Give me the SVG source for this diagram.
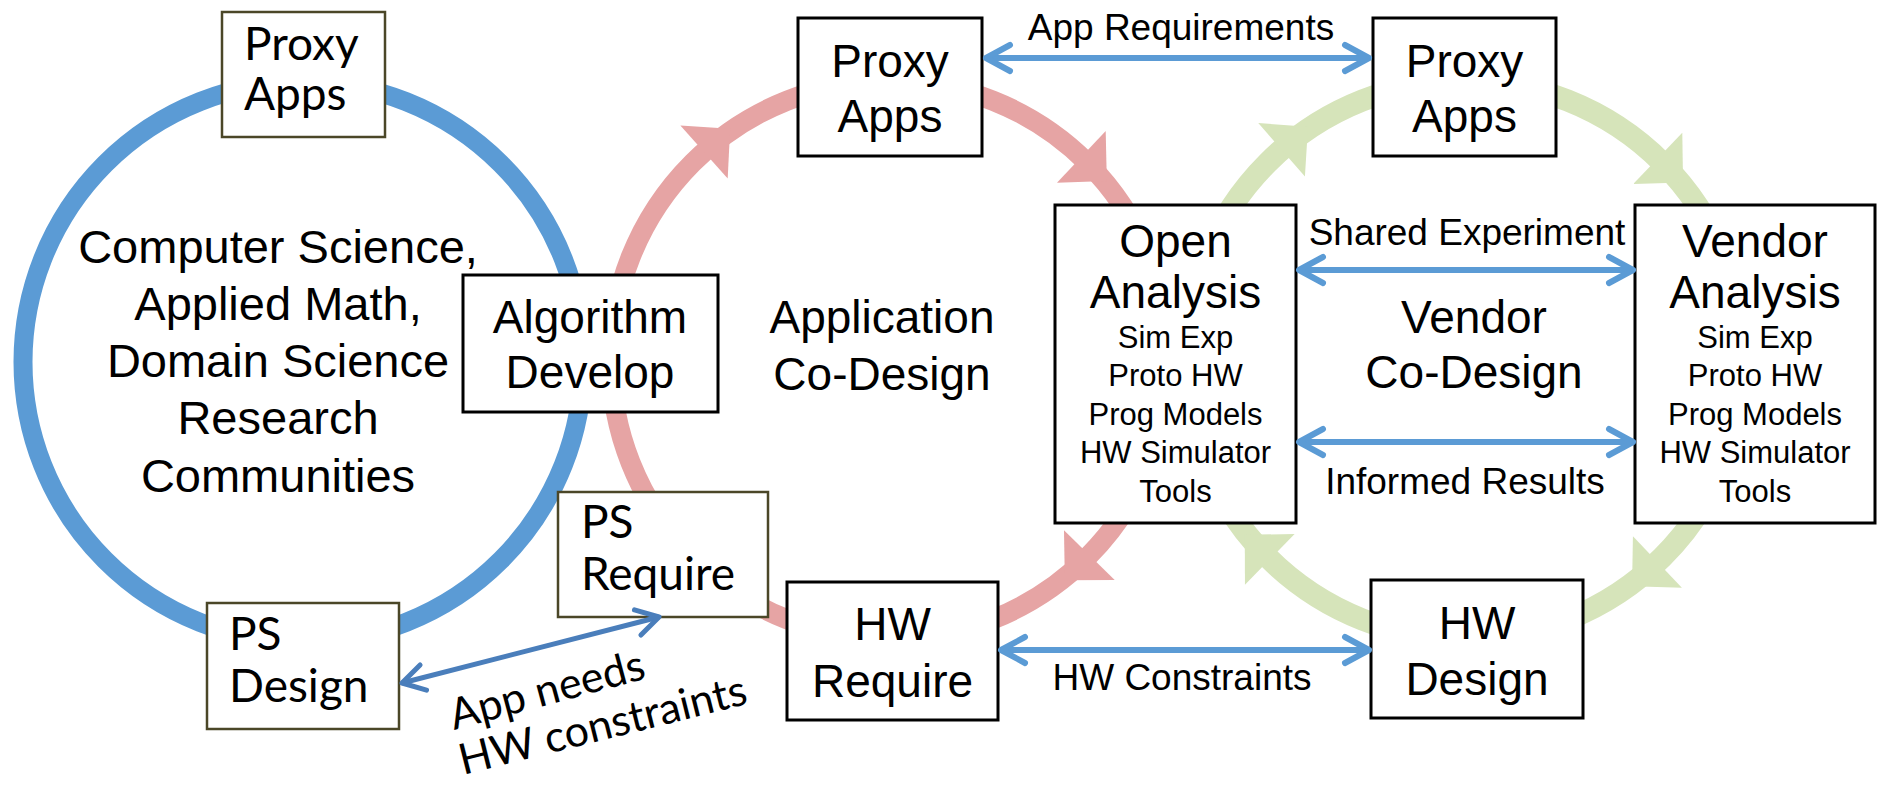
<svg xmlns="http://www.w3.org/2000/svg" width="1877" height="788" viewBox="0 0 1877 788">
<style>
.ring{fill:none}
.blue{stroke:#5b9bd5;stroke-width:19}
.pink{stroke:#e6a4a4;stroke-width:20}
.green{stroke:#d6e4ba;stroke-width:22}
.boxA{fill:#fff;stroke:#000;stroke-width:3}
.boxC{fill:#fff;stroke:#4b4728;stroke-width:2.5}
.ta{font-family:"Liberation Sans",Arial,sans-serif;fill:#000;text-anchor:middle}
.big{font-size:46px}
.circ{font-size:47px}
.small{font-size:31px}
.lbl{font-size:37px}
.tc{font-family:Lato,"Liberation Sans",sans-serif;font-size:46px;fill:#000}
.rot{font-family:Lato,"Liberation Sans",sans-serif;font-size:43px;fill:#000}
.conn{fill:none;stroke:#5b9bd5;stroke-width:6;marker-start:url(#chev);marker-end:url(#chev)}
.conn2{fill:none;stroke:#4a7ebb;stroke-width:5;marker-start:url(#chev2);marker-end:url(#chev2)}
</style>
<defs>
<marker id="chev" markerUnits="userSpaceOnUse" markerWidth="40" markerHeight="40" viewBox="-30 -20 40 40" refX="0" refY="0" orient="auto-start-reverse">
<path d="M-24,-13 L0,0 L-24,13" fill="none" stroke="#5b9bd5" stroke-width="6" stroke-linecap="round" stroke-linejoin="round"/>
</marker>
<marker id="chev2" markerUnits="userSpaceOnUse" markerWidth="40" markerHeight="40" viewBox="-30 -20 40 40" refX="0" refY="0" orient="auto-start-reverse">
<path d="M-22,-13 L0,0 L-22,13" fill="none" stroke="#4a7ebb" stroke-width="5" stroke-linecap="round" stroke-linejoin="round"/>
</marker>
<polygon id="tri" points="243.5,0 314.5,0 279,35"/>
</defs>

<g id="cycles">
<circle class="ring blue" cx="303" cy="362" r="280"/>
<circle class="ring pink" cx="890" cy="360" r="279"/>
<circle class="ring green" cx="1465" cy="360" r="279"/>
<g fill="#e6a4a4">
<use href="#tri" transform="translate(890,360) rotate(-131.8)"/>
<use href="#tri" transform="translate(890,360) rotate(-46.7)"/>
<use href="#tri" transform="translate(890,360) rotate(44.4)"/>
</g>
<g fill="#d6e4ba">
<use href="#tri" transform="translate(1465,360) rotate(-131.1)"/>
<use href="#tri" transform="translate(1465,360) rotate(-46.3)"/>
<use href="#tri" transform="translate(1465,360) rotate(46.4)"/>
<use href="#tri" transform="translate(1465,360) rotate(134.4)"/>
</g>
</g>

<g id="research-text" class="ta circ">
<text x="278" y="263">Computer Science,</text>
<text x="278" y="320">Applied Math,</text>
<text x="278" y="377">Domain Science</text>
<text x="278" y="434">Research</text>
<text x="278" y="492">Communities</text>
</g>

<g id="app-codesign" class="ta big">
<text x="882" y="333">Application</text>
<text x="882" y="390">Co-Design</text>
</g>
<g id="vendor-codesign" class="ta big">
<text x="1474" y="333">Vendor</text>
<text x="1474" y="388">Co-Design</text>
</g>

<g id="proxy-left">
<rect class="boxC" x="222" y="12" width="163" height="125"/>
<text class="tc" x="244" y="60">Proxy</text>
<text class="tc" x="244" y="110">Apps</text>
</g>
<g id="ps-require">
<rect class="boxC" x="558" y="492" width="210" height="125"/>
<text class="tc" x="581" y="538">PS</text>
<text class="tc" x="581" y="590">Require</text>
</g>
<g id="ps-design">
<rect class="boxC" x="207" y="603" width="192" height="126"/>
<text class="tc" x="229" y="650">PS</text>
<text class="tc" x="229" y="702">Design</text>
</g>
<g id="algorithm">
<rect class="boxA" x="463" y="275" width="255" height="137"/>
<text class="ta big" x="590" y="333">Algorithm</text>
<text class="ta big" x="590" y="388">Develop</text>
</g>
<g id="proxy-mid">
<rect class="boxA" x="798" y="18" width="184" height="138"/>
<text class="ta big" x="890" y="77">Proxy</text>
<text class="ta big" x="890" y="132">Apps</text>
</g>
<g id="proxy-right">
<rect class="boxA" x="1373" y="18" width="183" height="138"/>
<text class="ta big" x="1464.5" y="77">Proxy</text>
<text class="ta big" x="1464.5" y="132">Apps</text>
</g>
<g id="open-analysis">
<rect class="boxA" x="1055" y="205" width="241" height="318"/>
<text class="ta big" x="1175.5" y="257">Open</text>
<text class="ta big" x="1175.5" y="308">Analysis</text>
<text class="ta small" x="1175.5" y="348">Sim Exp</text>
<text class="ta small" x="1175.5" y="386">Proto HW</text>
<text class="ta small" x="1175.5" y="425">Prog Models</text>
<text class="ta small" x="1175.5" y="463">HW Simulator</text>
<text class="ta small" x="1175.5" y="502">Tools</text>
</g>
<g id="vendor-analysis">
<rect class="boxA" x="1635" y="205" width="240" height="318"/>
<text class="ta big" x="1755" y="257">Vendor</text>
<text class="ta big" x="1755" y="308">Analysis</text>
<text class="ta small" x="1755" y="348">Sim Exp</text>
<text class="ta small" x="1755" y="386">Proto HW</text>
<text class="ta small" x="1755" y="425">Prog Models</text>
<text class="ta small" x="1755" y="463">HW Simulator</text>
<text class="ta small" x="1755" y="502">Tools</text>
</g>
<g id="hw-require">
<rect class="boxA" x="787" y="582" width="211" height="138"/>
<text class="ta big" x="892.5" y="640">HW</text>
<text class="ta big" x="892.5" y="697">Require</text>
</g>
<g id="hw-design">
<rect class="boxA" x="1371" y="580" width="212" height="138"/>
<text class="ta big" x="1477" y="639">HW</text>
<text class="ta big" x="1477" y="695">Design</text>
</g>

<g id="connectors">
<line class="conn" x1="986" y1="58" x2="1369" y2="58"/>
<line class="conn" x1="1299" y1="270" x2="1633" y2="270"/>
<line class="conn" x1="1299" y1="442" x2="1633" y2="442"/>
<line class="conn" x1="1001" y1="650" x2="1369" y2="650"/>
<line class="conn2" x1="402" y1="683" x2="659" y2="617"/>
</g>

<g id="connector-labels" class="ta lbl">
<text x="1181" y="40">App Requirements</text>
<text x="1467" y="245">Shared Experiment</text>
<text x="1465" y="494">Informed Results</text>
<text x="1182" y="690">HW Constraints</text>
</g>
<g id="app-needs-label">
<text class="rot" transform="translate(454,730) rotate(-15)">App needs</text>
<text class="rot" transform="translate(463,775) rotate(-14)">HW constraints</text>
</g>
</svg>
